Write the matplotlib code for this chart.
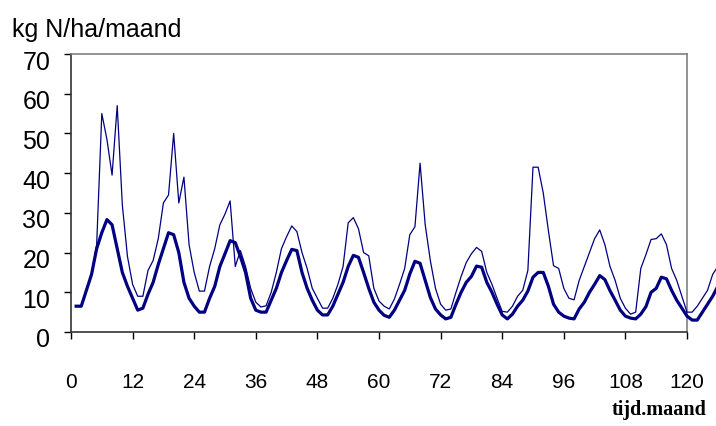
import numpy as np
import matplotlib
matplotlib.use("Agg")
import matplotlib.pyplot as plt
import matplotlib.transforms as mtransforms

# monthly N values, months 1..126
months = np.arange(1, 127)

n_thin = [6.5, 6.5, 10.5, 14.5, 22, 55, 48.5, 39.5, 57, 32,
          19, 12, 9, 9, 15.5, 18, 23.5, 32.5, 34.5, 50,
          32.5, 39, 22, 15, 10.3, 10.3, 16.5, 21, 27, 29.7,
          33, 16.5, 20.5, 16.5, 11, 7.5, 6.3, 6.6, 10, 15,
          21, 24, 26.7, 25.3, 20, 16, 11, 8.5, 6, 6,
          8.5, 12, 16.5, 27.5, 28.8, 26, 20, 19.2, 11, 7.8,
          6.5, 5.8, 8.3, 12, 16, 24.5, 26.5, 42.5, 27, 18,
          11, 7, 5.5, 5.8, 10, 14, 17.5, 19.7, 21.3, 20.3,
          15, 12, 8.5, 5.2, 5, 6.5, 9, 10.5, 15.5, 41.5,
          41.5, 35, 25.5, 16.7, 16, 11, 8.5, 8.1, 13, 16.5,
          20, 23.5, 25.7, 22, 16.5, 13, 8.5, 6, 4.5, 5,
          16, 19.5, 23.3, 23.5, 24.7, 22, 16, 13, 9, 5,
          5, 6.5, 8.5, 10.5, 14.5, 16.5]

n_thick = [6.5, 6.5, 10.5, 14.5, 21, 25, 28.3, 27, 21, 15,
           11.5, 8.5, 5.5, 6, 9.5, 12.5, 17, 21, 25, 24.5,
           20, 12.5, 8.5, 6.5, 5, 5, 8.5, 11.5, 16.5, 19.7,
           23, 22.5, 19, 15, 8.5, 5.5, 5, 5, 8, 11,
           15, 18, 20.8, 20.5, 15, 11, 8, 5.5, 4.3, 4.3,
           6.5, 9.5, 12.5, 16.5, 19.3, 18.8, 15, 11, 7.5, 5.5,
           4.2, 3.7, 5.5, 8, 10.5, 14.6, 17.8, 17.3, 13, 8.7,
           5.8, 4.3, 3.3, 3.7, 7, 10, 12.5, 14, 16.6, 16.3,
           12.5, 10, 7, 4.3, 3.3, 4.5, 6.5, 8, 10.3, 13.8,
           15, 15, 11.5, 7, 5, 4, 3.5, 3.3, 5.8, 7.5,
           10, 12, 14.2, 13.2, 10.4, 8, 5.5, 4, 3.5, 3.3,
           4.5, 6.4, 10, 11, 13.8, 13.4, 10.5, 8, 6, 4,
           3, 3, 5, 7, 9, 11.5]

xticks = list(range(0, 121, 12))
yticks = list(range(0, 71, 10))

navy = "#000080"

fig = plt.figure(figsize=(7.16, 4.27), dpi=100)
ax = fig.add_axes([71 / 716, 1 - 333 / 427, 616 / 716, 278 / 427])

ax.plot(months, n_thin, color=navy, lw=0.9, clip_on=False, zorder=3)
ax.plot(months, n_thick, color=navy, lw=2.3, clip_on=False, zorder=4)

ax.set_xlim(0, 120)
ax.set_ylim(0, 70)
ax.set_xticks(xticks)
ax.set_yticks(yticks)

for side in ["top", "right"]:
    ax.spines[side].set_color("#808080")
    ax.spines[side].set_linewidth(1.2)
for side in ["left", "bottom"]:
    ax.spines[side].set_color("#333333")
    ax.spines[side].set_linewidth(1.2)

ax.tick_params(axis="y", direction="out", length=5, width=1, pad=10,
               labelsize=18, colors="#000000")
ax.tick_params(axis="x", direction="out", length=5, width=1, pad=24,
               labelsize=15, colors="#000000")
for lab in ax.get_yticklabels():
    lab.set_fontfamily("Liberation Sans")
    lab.set_transform(lab.get_transform() +
                      mtransforms.ScaledTranslation(0, -5 / 100, fig.dpi_scale_trans))
for lab in ax.get_xticklabels():
    lab.set_fontfamily(["Liberation Sans Narrow", "Liberation Sans"])

fig.text(12 / 716, 1 - 30 / 427, "kg N/ha/maand", fontsize=18,
         family="Liberation Sans", va="center", ha="left")
fig.text(707 / 716, 1 - 410 / 427, "tijd.maand", fontsize=14.5,
         family="Liberation Serif", weight="bold", va="center", ha="right")

fig.savefig("out.png", dpi=100)
